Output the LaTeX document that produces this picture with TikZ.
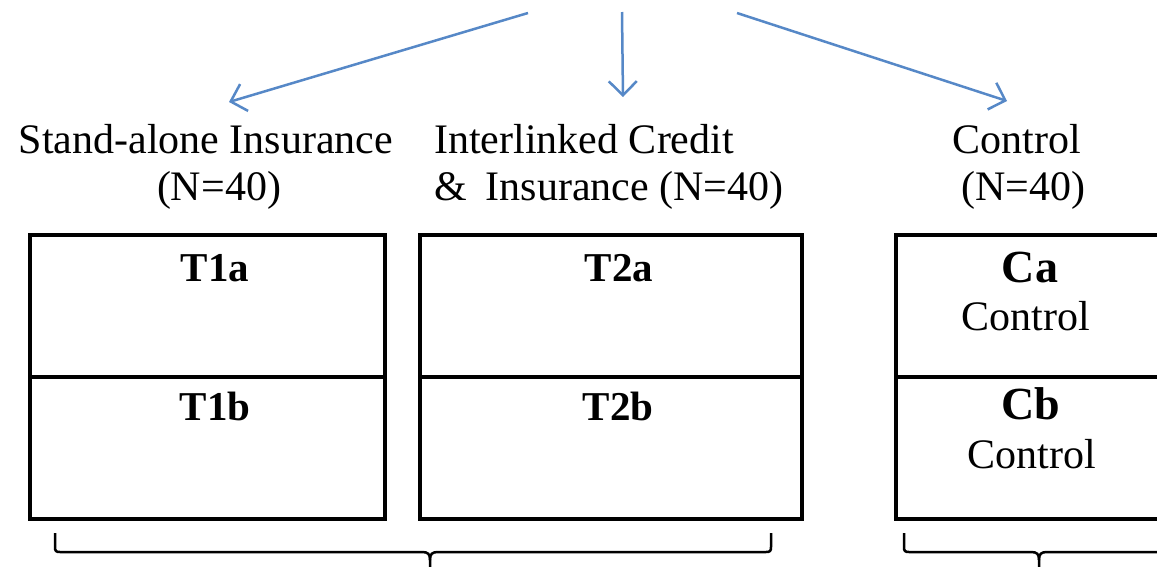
\documentclass[tikz,border=0pt]{standalone}
\usepackage{fontspec}
\setmainfont{Liberation Serif}
\usetikzlibrary{arrows.meta}
\definecolor{arrowblue}{HTML}{5688C7}
\tikzset{
  lbl/.style={font=\fontsize{42}{48}\selectfont, inner sep=0pt},
  tlbl/.style={font=\fontsize{41}{48}\selectfont\bfseries, inner sep=0pt},
  clbl/.style={font=\fontsize{46}{52}\selectfont\bfseries, inner sep=0pt},
  cell/.style={draw, line width=3.5pt, inner sep=0pt, anchor=north west, minimum height=142},
  flow/.style={draw=arrowblue, line width=2.5pt, -{Straight Barb[length=14pt,width=28pt,line width=2.5pt]}},
  bracket/.style={draw, line width=2.5pt}
}
\begin{document}
\begin{tikzpicture}[x=1pt,y=-1pt]
\clip (0,0) rectangle (1157,566);
\fill[white] (0,0) rectangle (1157,566);

% arrows
\coordinate (s1) at (528,13);
\coordinate (t1) at (229,102);
\coordinate (s2) at (622,12);
\coordinate (t2) at (623,97);
\coordinate (s3) at (737,13);
\coordinate (t3) at (1007,101);
\draw[flow] (s1) -- (t1);
\draw[flow] (s2) -- (t2);
\draw[flow] (s3) -- (t3);

% group labels
\node[lbl, anchor=base] (g1) at (206,153) {Stand-alone Insurance};
\node[lbl, anchor=base] (g1n) at (219,200) {(N=40)};
\node[lbl, anchor=base west] (g2) at (434,153) {Interlinked Credit};
\node[lbl, anchor=base west] (g2n) at (434,200) {\&\hspace{19pt}Insurance (N=40)};
\node[lbl, anchor=base] (g3) at (1017,153) {Control};
\node[lbl, anchor=base] (g3n) at (1023,200) {(N=40)};

% boxes
\node[cell, minimum width=355] (c1a) at (28,233) {};
\node[cell, minimum width=355] (c1b) at (28,375) {};
\node[cell, minimum width=382] (c2a) at (418,233) {};
\node[cell, minimum width=382] (c2b) at (418,375) {};
\node[cell, minimum width=280] (c3a) at (894,233) {};
\node[cell, minimum width=280] (c3b) at (894,375) {};

% cell texts
\node[tlbl, anchor=base] (t1a) at (215,281) {T1a};
\node[tlbl, anchor=base] (t1b) at (215,420) {T1b};
\node[tlbl, anchor=base] (t2a) at (619,281) {T2a};
\node[tlbl, anchor=base] (t2b) at (618,420) {T2b};
\node[clbl, anchor=base] (ca) at (1030,282) {Ca};
\node[lbl, anchor=base] (cac) at (1026,330) {Control};
\node[clbl, anchor=base] (cb) at (1031,419) {Cb};
\node[lbl, anchor=base] (cbc) at (1032,468) {Control};

% brackets
\draw[bracket] (55,533) -- (55,547) .. controls (55,551) and (56,552) .. (60,552)
  -- (422,552) .. controls (428,552) and (430,554) .. (430,560) -- (430,568);
\draw[bracket] (430,560) .. controls (430,554) and (432,552) .. (438,552)
  -- (766,552) .. controls (770,552) and (771,551) .. (771,547) -- (771,533);
\draw[bracket] (904,533) -- (904,547) .. controls (904,551) and (905,552) .. (909,552)
  -- (1031,552) .. controls (1037,552) and (1039,554) .. (1039,560) -- (1039,568);
\draw[bracket] (1039,560) .. controls (1039,554) and (1041,552) .. (1047,552)
  -- (1170,552);
\end{tikzpicture}
\end{document}
